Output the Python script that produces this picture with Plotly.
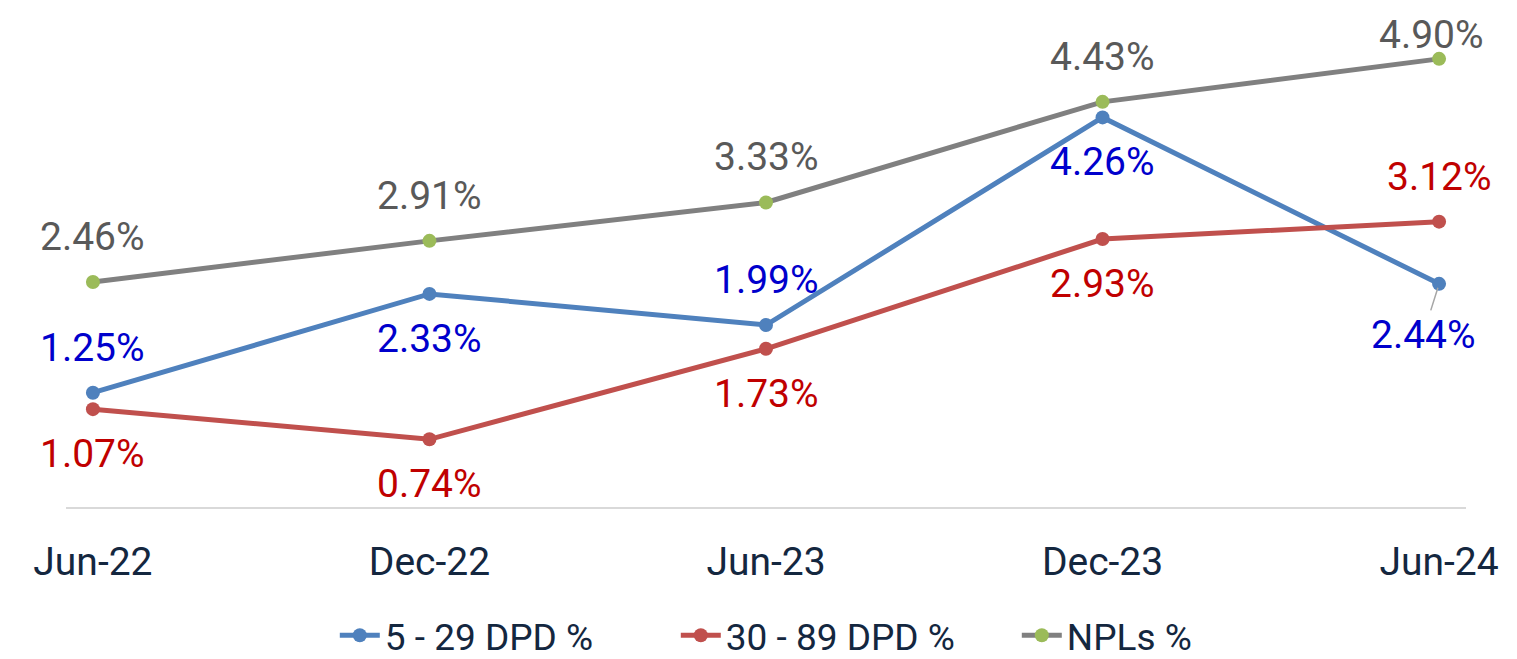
import plotly.graph_objects as go

periods = ["Jun-22", "Dec-22", "Jun-23", "Dec-23", "Jun-24"]
dpd_5_29 = [1.25, 2.33, 1.99, 4.26, 2.44]
dpd_30_89 = [1.07, 0.74, 1.73, 2.93, 3.12]
npls = [2.46, 2.91, 3.33, 4.43, 4.90]

# label placement: +1 above, -1 below
pos_5_29 = [1, -1, 1, -1, -1]
pos_30_89 = [-1, -1, -1, -1, 1]
pos_npls = [1, 1, 1, 1, 1]

series = [
    ("5 - 29 DPD %", dpd_5_29, "#4F81BD", "#4F81BD", "#0000CC", pos_5_29),
    ("30 - 89 DPD %", dpd_30_89, "#C0504D", "#C0504D", "#C00000", pos_30_89),
    ("NPLs %", npls, "#808080", "#9BBB59", "#595959", pos_npls),
]

FONT = "Roboto, Inter, sans-serif"
fig = go.Figure()
annotations = []
for name, vals, lc, mc, tc, pos in series:
    fig.add_trace(go.Scatter(
        x=periods, y=vals, name=name, mode="lines+markers",
        line=dict(color=lc, width=5),
        marker=dict(color=mc, size=14),
    ))
    for i, (p, v, s) in enumerate(zip(periods, vals, pos)):
        ann = dict(x=p, y=v, xref="x", yref="y", text=f"{v:.2f}%",
                   font=dict(family=FONT, size=39, color=tc, weight=400),
                   showarrow=False, yshift=45 * s)
        if name == "NPLs %" and i == 4:
            ann.update(yshift=24, xshift=-8)
        if name == "5 - 29 DPD %" and i == 4:
            ann.update(showarrow=True, arrowhead=0, arrowwidth=1.5,
                       arrowcolor="#A6A6A6", ax=-16, ay=51, yshift=0,
                       standoff=4)
        annotations.append(ann)

fig.update_layout(
    width=1517, height=659,
    margin=dict(l=66, r=51, t=4, b=152, autoexpand=False),
    paper_bgcolor="white", plot_bgcolor="white",
    showlegend=True,
    legend=dict(orientation="h", x=0.192, xanchor="left", y=-0.256,
                yanchor="middle",
                font=dict(family=FONT, size=37, color="#14273F", weight=400),
                itemwidth=40, entrywidth=286, tracegroupgap=0),
    annotations=annotations,
)
fig.update_xaxes(
    range=[-0.08, 4.08], showgrid=False, zeroline=False, automargin=False,
    showline=True, linecolor="#D9D9D9", linewidth=2,
    ticks="", ticklabelstandoff=19,
    tickfont=dict(family=FONT, size=39, color="#14273F", weight=400),
)
fig.update_yaxes(range=[0, 5.5], visible=False, showgrid=False, automargin=False)

fig.write_html("out.html", config={"displayModeBar": False},
               post_script="document.body.style.margin='0';document.body.style.overflow='hidden';")
